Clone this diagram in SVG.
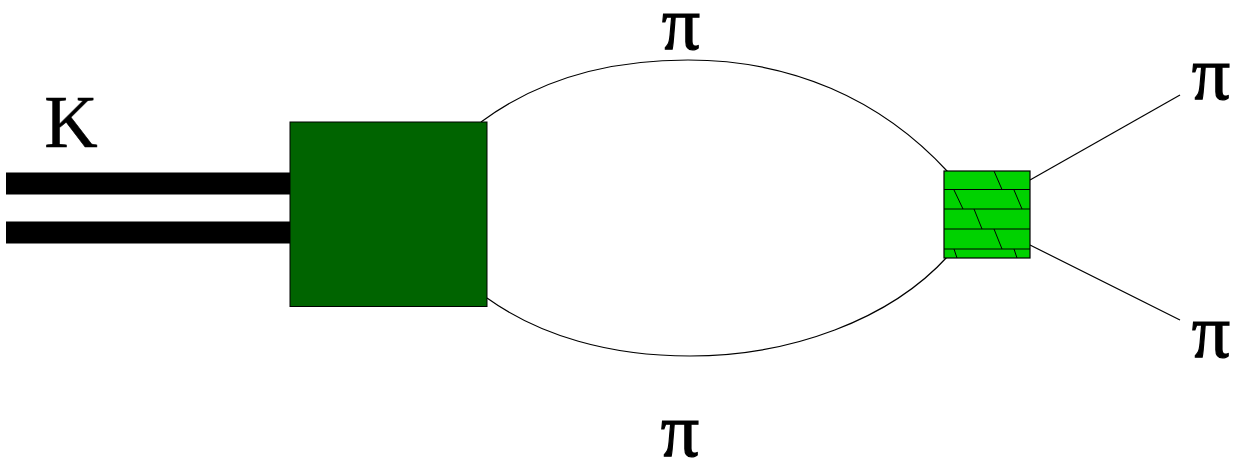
<svg xmlns="http://www.w3.org/2000/svg" width="1239" height="460" viewBox="0 0 1239 460">
<style>
.t{font-family:"Liberation Serif",serif;fill:#000}
.pi{font-size:76px;text-anchor:middle;stroke:#000;stroke-width:1.2}
.k{stroke:#000;stroke-width:.5}
.l{fill:none;stroke:#000;stroke-width:1.2}
.h{fill:none;stroke:#000;stroke-width:1}
.b{fill:#000}
</style>
<rect width="1239" height="460" fill="#fff"/>
<g id="connectors">
<rect class="b" x="6" y="172.500" width="285" height="22"/>
<rect class="b" x="6" y="221.500" width="285" height="22"/>
<path class="l" d="M481 122C540 78 610 60 688 60C790 60 880 98 948 172"/>
<path class="l" d="M487 298C540 336 610 356 690 356C790 356 890 320 948 256"/>
<path class="l" d="M1030 180L1180 95"/>
<path class="l" d="M1030 245L1180 320"/>
</g>
<g id="blob1"><rect x="290" y="122" width="197" height="184.500" fill="#006400" stroke="#000" stroke-width="1"/></g>
<g id="blob2">
<rect x="944" y="171" width="86" height="87" fill="#00d200" stroke="#000" stroke-width="1.200"/>
<path class="h" d="M944 189.500H1030M944 209H1030M944 229H1030M944 249H1030M994 171L1002 189.500M954 190L963 209M1014 190L1022 209M974 209L982 229M994 229L1002 249M954 249L957 258M1014 249L1017 258"/>
</g>
<g id="label-K"><text class="t k" x="71" y="147" font-size="74" text-anchor="middle">K</text></g>
<g id="label-pi-top"><text class="t pi" x="681" y="49">π</text></g>
<g id="label-pi-bottom"><text class="t pi" x="680" y="456">π</text></g>
<g id="label-pi-right-top"><text class="t pi" x="1211" y="99">π</text></g>
<g id="label-pi-right-bottom"><text class="t pi" x="1211" y="357">π</text></g>
</svg>
